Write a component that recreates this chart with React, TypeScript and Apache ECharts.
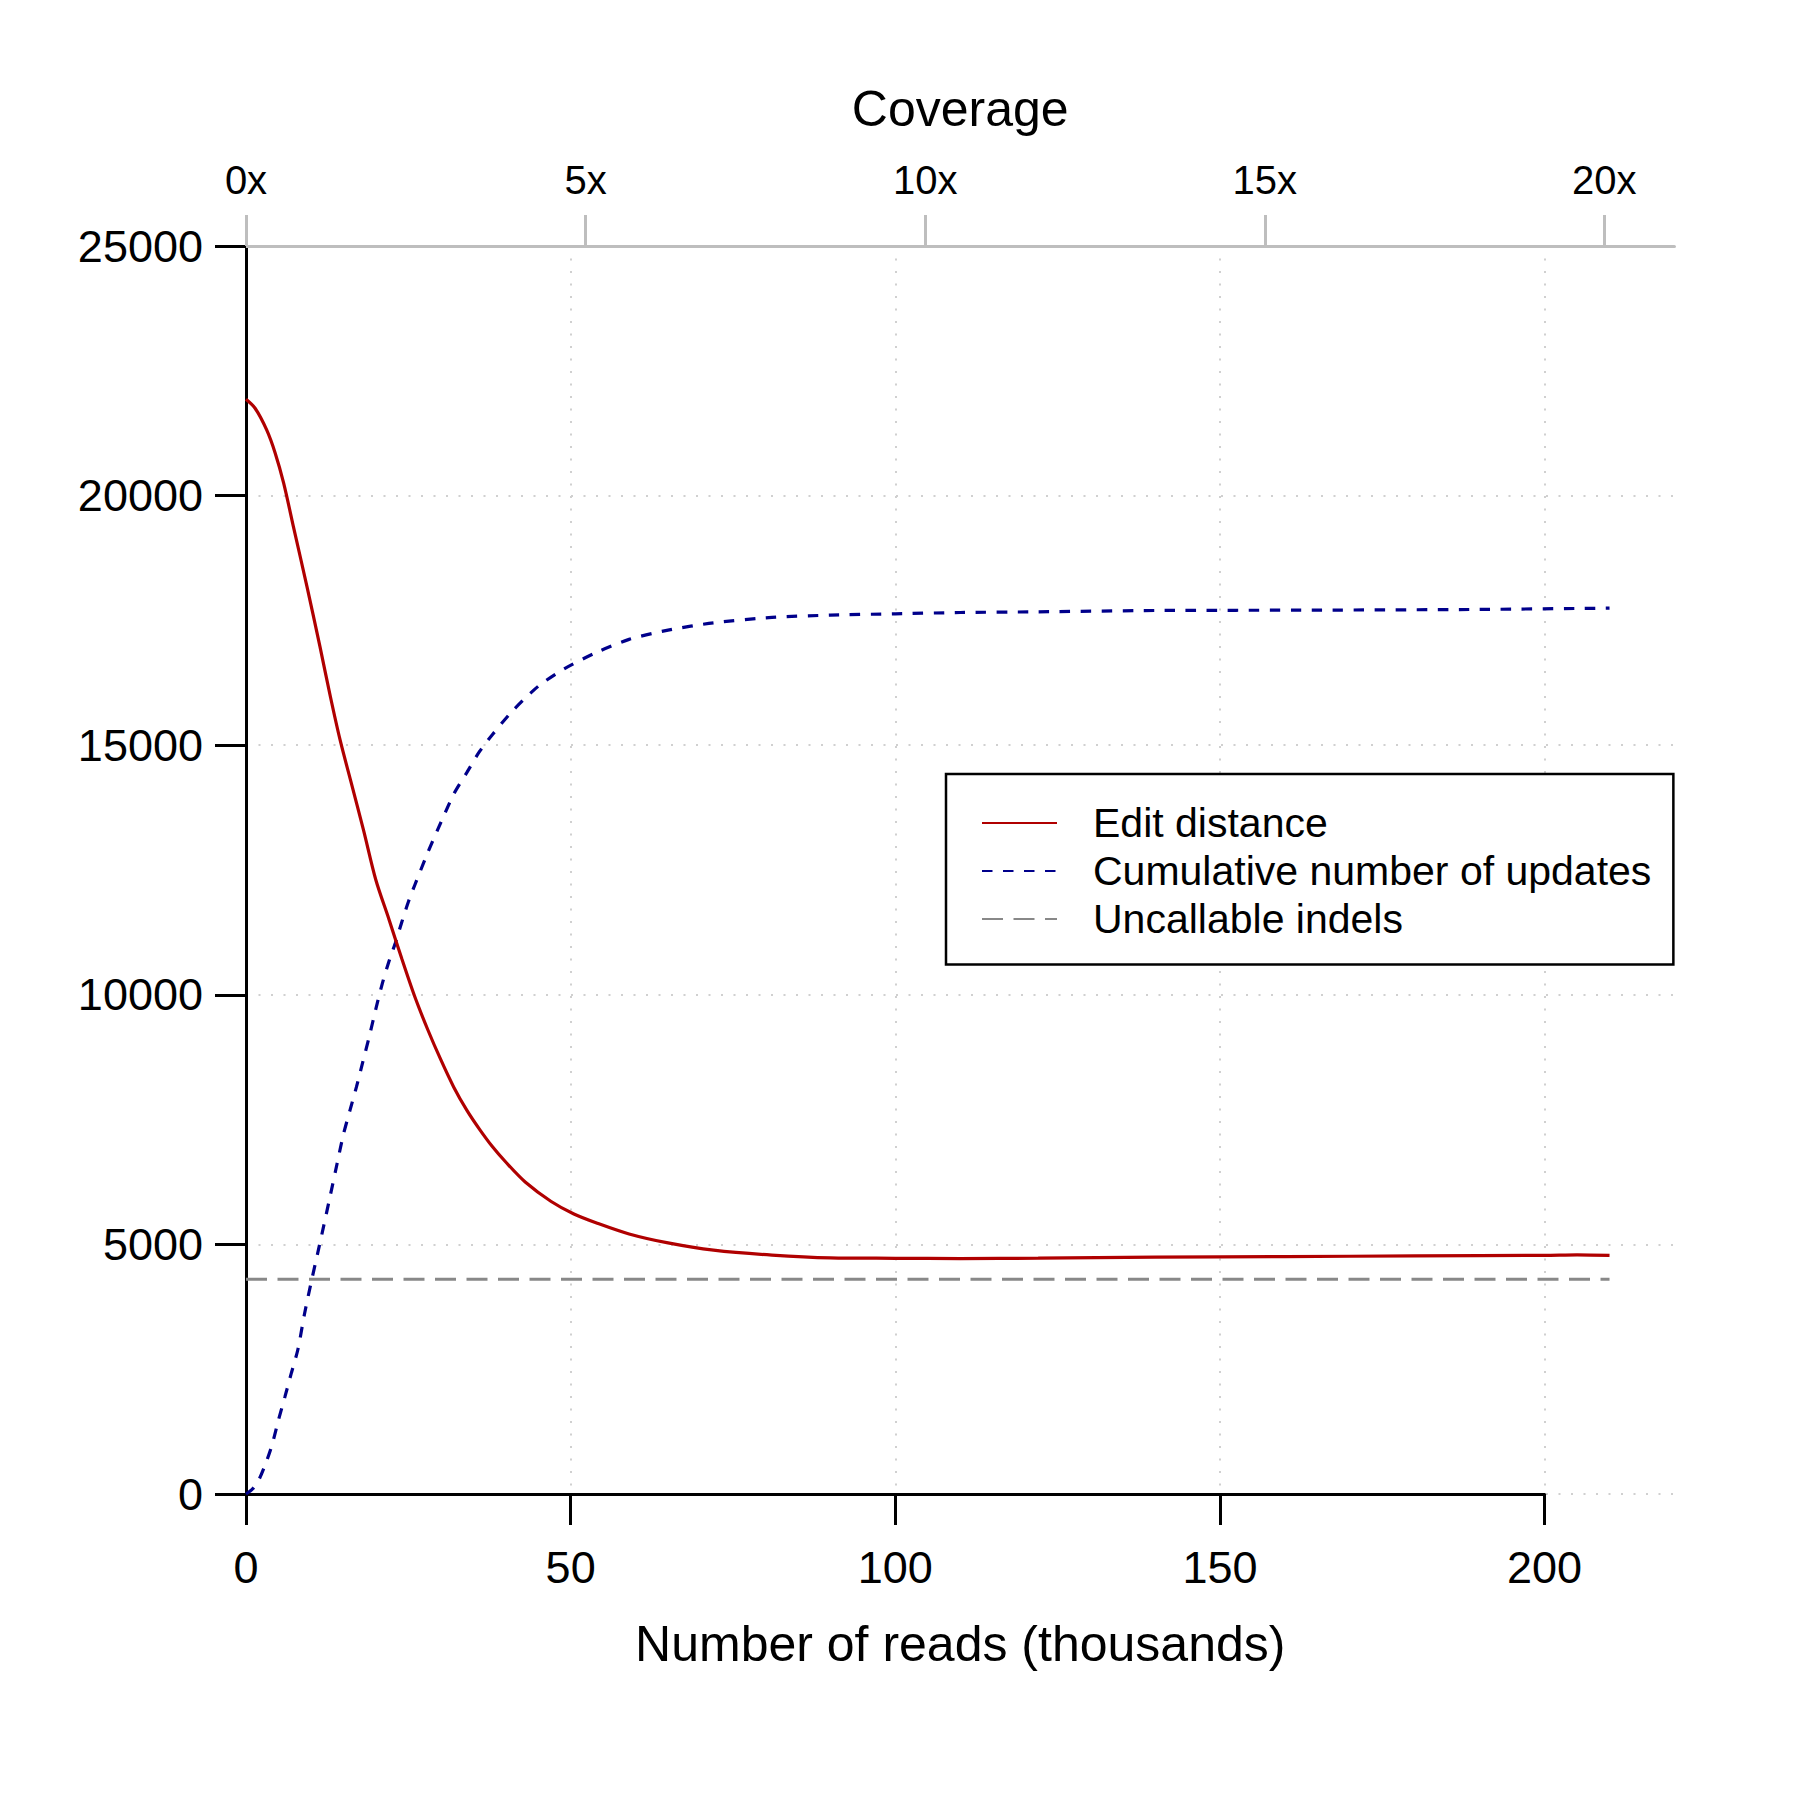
import React, { useEffect, useRef } from 'react';
import * as echarts from 'echarts';

// thousand reads corresponding to 1x coverage
const readsPerCoverage = 10.46;

// Edit distance (red solid)
const editX = [0, 1.4, 3.2, 4.5, 5.8, 7.3, 9.4, 11.4, 13, 14.5, 16.1, 18.1, 20, 22, 24, 26, 28, 30, 32, 34, 36, 38, 40, 43, 47, 50.5, 54, 59, 65, 72, 81, 90, 100, 110, 122, 140, 160, 180, 200, 205, 210];
const editY = [21930, 21750, 21310, 20850, 20250, 19380, 18170, 16970, 15970, 15100, 14300, 13300, 12300, 11520, 10720, 9960, 9300, 8700, 8150, 7690, 7300, 6950, 6650, 6250, 5860, 5610, 5430, 5210, 5030, 4885, 4785, 4730, 4722, 4716, 4725, 4745, 4755, 4770, 4780, 4790, 4780];

// Cumulative number of updates (blue dashed)
const updX = [0, 1, 2, 3, 4, 5, 6, 7, 8, 9, 10, 11, 12, 13, 14, 15, 16, 17, 18, 19, 20, 21, 22, 23, 24, 25, 26, 28, 30, 32, 34, 36, 38, 41, 45, 49, 54, 59, 65, 72, 81, 90, 100, 110, 122, 140, 165, 190, 210];
const updY = [0, 100, 290, 600, 980, 1480, 1950, 2430, 2900, 3600, 4220, 4800, 5390, 5990, 6600, 7200, 7680, 8150, 8660, 9170, 9720, 10230, 10660, 11040, 11460, 11860, 12200, 12850, 13450, 14020, 14450, 14880, 15220, 15680, 16180, 16530, 16860, 17120, 17305, 17452, 17560, 17606, 17632, 17658, 17672, 17698, 17706, 17720, 17746];

// Uncallable indels (gray dashed, constant)
const indelX = [0, 210];
const indelLevel = 4300;

const readTicks = [0, 50, 100, 150, 200];
const coverageTicks = [0, 5, 10, 15, 20];
const countTicks = [0, 5000, 10000, 15000, 20000, 25000];

const legendNames = ['Edit distance', 'Cumulative number of updates', 'Uncallable indels'];

export default function App() {
  const ref = useRef<HTMLDivElement>(null);

  useEffect(() => {
    const chart = echarts.init(ref.current!, null, { renderer: 'svg' });
    const font = '"Liberation Sans", Arial, Helvetica, sans-serif';
    const L = 246;
    const T = 246;
    const H = 1248;
    const PX = 6.493;
    const black = '#000000';
    const axisW = 3;
    const gridLine = { color: '#d0d0d0', width: 2, type: [2, 10.5] as any };

    const option: any = {
      animation: false,
      backgroundColor: '#ffffff',
      textStyle: { fontFamily: font },
      grid: [
        { left: L, top: T, width: 220 * PX, height: H },
        { left: L, top: T, width: 200 * PX, height: H },
      ],
      xAxis: [
        {
          type: 'value', gridIndex: 0, position: 'bottom', min: 0, max: 220, interval: 50,
          axisLine: { show: false }, axisTick: { show: false }, axisLabel: { show: false },
          splitLine: { show: true, showMinLine: false, showMaxLine: false, lineStyle: gridLine },
          name: 'Number of reads (thousands)', nameLocation: 'middle', nameGap: 125,
          nameTextStyle: { fontSize: 50, color: black, fontFamily: font },
        },
        {
          type: 'value', gridIndex: 0, position: 'top', min: 0, max: 220 / readsPerCoverage,
          axisLine: { show: true, onZero: false, lineStyle: { color: '#bebebe', width: axisW } },
          axisTick: { show: true, length: 31, inside: false, customValues: coverageTicks, lineStyle: { color: '#bebebe', width: axisW } },
          axisLabel: { show: true, fontSize: 40, color: black, margin: 46.5, fontFamily: font, customValues: coverageTicks, formatter: (v: number) => `${v}x` },
          splitLine: { show: false },
          name: 'Coverage', nameLocation: 'middle', nameGap: 112,
          nameTextStyle: { fontSize: 50, color: black, fontFamily: font },
        },
        {
          type: 'value', gridIndex: 1, position: 'bottom', min: 0, max: 200,
          axisLine: { show: true, onZero: false, lineStyle: { color: black, width: axisW } },
          axisTick: { show: true, length: 31, customValues: readTicks, lineStyle: { color: black, width: axisW } },
          axisLabel: { show: true, fontSize: 45, color: black, margin: 51, fontFamily: font, customValues: readTicks, formatter: (v: number) => String(v) },
          splitLine: { show: false },
        },
      ],
      yAxis: [
        {
          type: 'value', gridIndex: 0, min: 0, max: 25000, interval: 5000,
          axisLine: { show: true, onZero: false, lineStyle: { color: black, width: axisW } },
          axisTick: { show: true, length: 31, customValues: countTicks, lineStyle: { color: black, width: axisW } },
          axisLabel: { show: true, fontSize: 45, color: black, margin: 43, fontFamily: font, customValues: countTicks, formatter: (v: number) => String(v) },
          splitLine: { show: true, showMaxLine: false, lineStyle: gridLine },
        },
        { type: 'value', gridIndex: 1, min: 0, max: 25000, show: false },
      ],
      legend: {
        orient: 'vertical', left: 946, top: 774,
        padding: [28.5, 22, 25, 35], itemGap: 7, itemWidth: 75, itemHeight: 14,
        borderColor: black, borderWidth: 2.5, backgroundColor: '#ffffff',
        itemStyle: { opacity: 0, color: 'rgba(0,0,0,0)', borderWidth: 0 },
        textStyle: { fontSize: 41, color: black, lineHeight: 41, fontFamily: font, padding: [0, 0, 0, 31] },
        data: legendNames,
      },
      series: [
        {
          name: legendNames[2], type: 'line', xAxisIndex: 0, yAxisIndex: 0,
          data: indelX.map((x) => [x, indelLevel]),
          symbol: 'none', showSymbol: false,
          lineStyle: { color: '#888888', width: 3, type: [21, 10.5] },
          itemStyle: { color: '#888888' }, z: 3,
        },
        {
          name: legendNames[1], type: 'line', xAxisIndex: 0, yAxisIndex: 0,
          data: updX.map((x, i) => [x, updY[i]]),
          symbol: 'none', showSymbol: false, smooth: 0.25,
          lineStyle: { color: '#00008b', width: 3.2, type: [10.5, 10.5] },
          itemStyle: { color: '#00008b' }, z: 4,
        },
        {
          name: legendNames[0], type: 'line', xAxisIndex: 0, yAxisIndex: 0,
          data: editX.map((x, i) => [x, editY[i]]),
          symbol: 'none', showSymbol: false, smooth: 0.3,
          lineStyle: { color: '#b00000', width: 3.2 },
          itemStyle: { color: '#b00000' }, z: 5,
        },
      ],
    };

    chart.setOption(option);
    return () => chart.dispose();
  }, []);

  return (
    <div
      ref={ref}
      style={{ position: 'fixed', left: 0, top: 0, width: 1800, height: 1800, background: '#ffffff' }}
    />
  );
}
